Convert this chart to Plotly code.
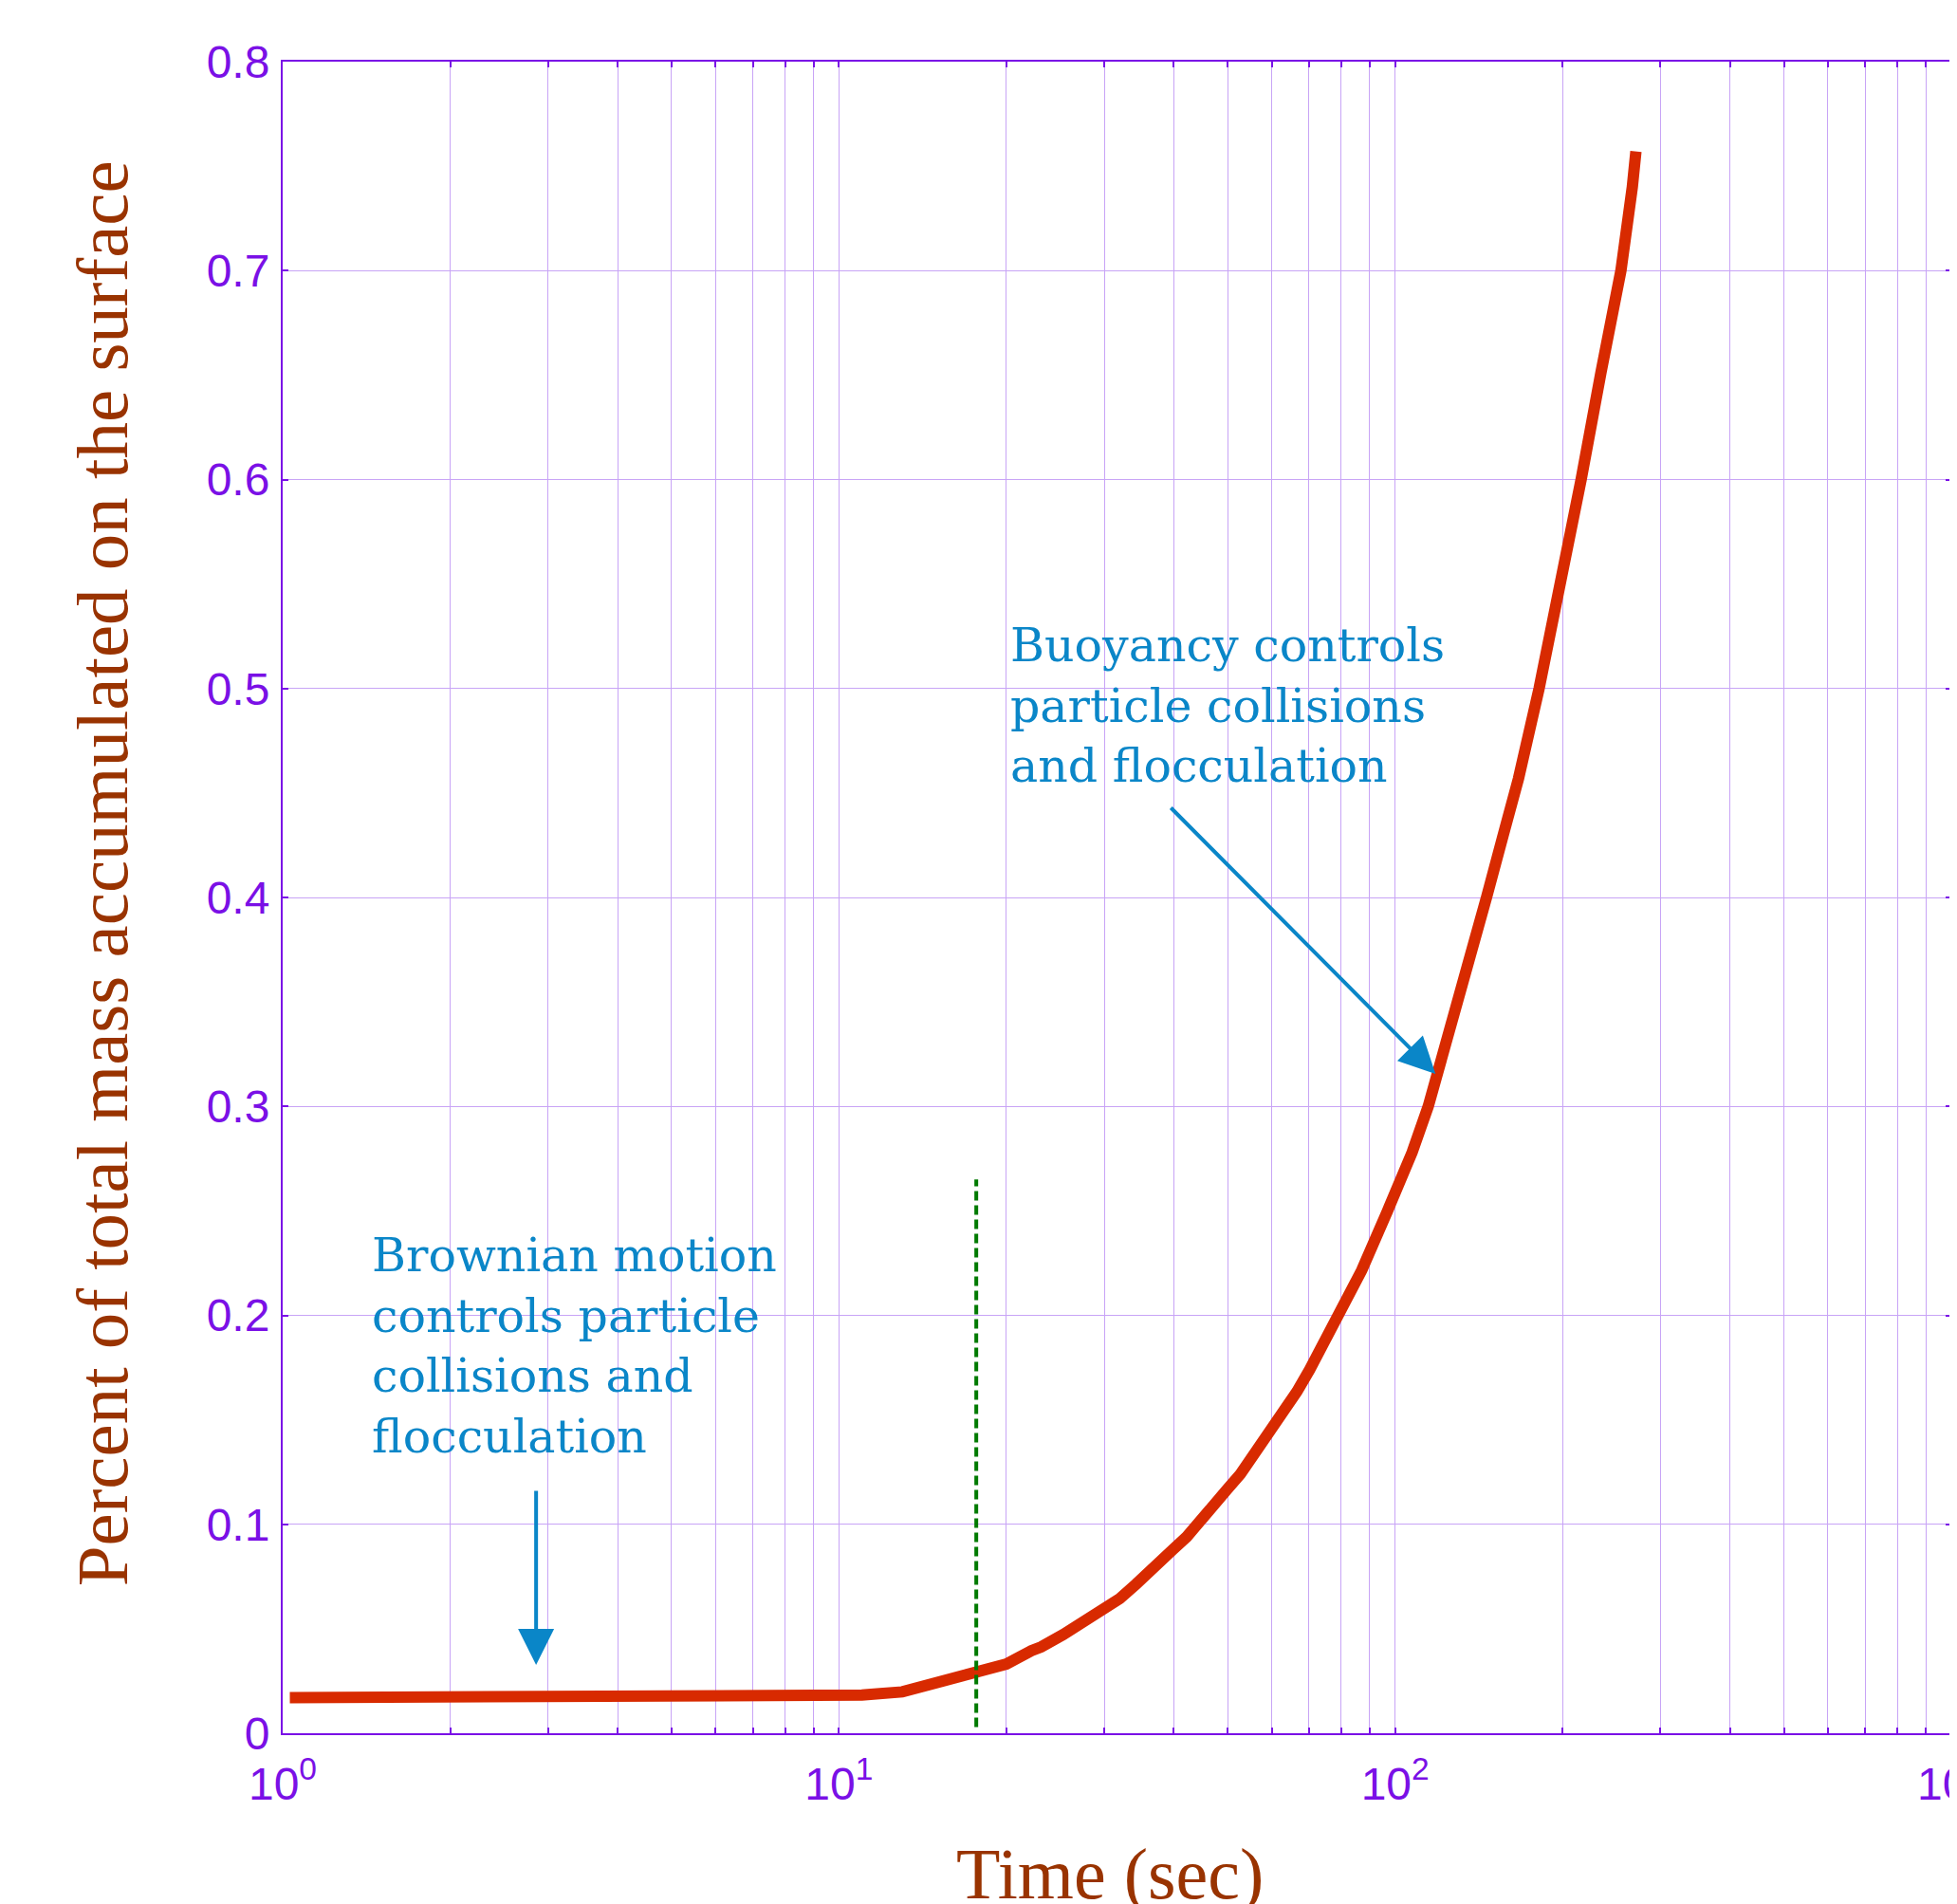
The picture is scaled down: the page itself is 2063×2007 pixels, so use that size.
import numpy as np
import plotly.graph_objects as go

# ---------------- data ----------------
time_s = [1.03, 2, 3, 4.0, 5.0, 7, 9, 11.0, 13.0, 15.0, 17.6, 19.2, 20.0, 22.2, 23.1,
          25.3, 26.3, 28.1, 29.2, 30.0, 32.0, 34.2, 37.0, 39.9, 42.2, 45.9,
          49.9, 52.7, 56.1, 61.6, 66.6, 70.2, 75.9, 78.7, 87.1, 96.8,
          107.3, 114.7, 118.2, 130, 146, 156, 166.7, 181.5, 199, 216, 234.4,
          254.7, 267, 271]
mass_frac = [0.0170, 0.0170, 0.0170, 0.0170, 0.0183, 0.0183, 0.0183, 0.0183, 0.0198,
             0.0244, 0.0285, 0.0315, 0.0331, 0.0395, 0.0413, 0.0472, 0.0500, 0.0545,
             0.0586, 0.0600, 0.0645, 0.0713, 0.0790, 0.0880, 0.0940, 0.1044,
             0.1167, 0.1240, 0.1340, 0.1500, 0.1635, 0.1740, 0.1907, 0.2000,
             0.2216, 0.2497, 0.2780, 0.3000, 0.3120, 0.3530,
             0.4000, 0.4286, 0.4570, 0.5000, 0.5500, 0.6000, 0.6510, 0.7000,
             0.7400, 0.7570]

threshold_time = [17.66, 17.66]
threshold_y = [0.003, 0.265]

x_major = [1, 10, 100, 1000]
x_major_text = ["10<sup>0</sup>", "10<sup>1</sup>", "10<sup>2</sup>", "10<sup>3</sup>"]
x_minor = [m * 10 ** e for e in range(3) for m in range(2, 10)]
y_ticks = [0, 0.1, 0.2, 0.3, 0.4, 0.5, 0.6, 0.7, 0.8]
y_tick_text = ["0", "0.1", "0.2", "0.3", "0.4", "0.5", "0.6", "0.7", "0.8"]

x_title = "Time (sec)"
y_title = "Percent of total mass accumulated on the surface"

brownian_text = "Brownian motion<br>controls particle<br>collisions and<br>flocculation"
buoyancy_text = "Buoyancy controls<br>particle collisions<br>and flocculation"
brownian_arrow = dict(tip=(2.855, 0.0327), tail=(2.855, 0.1167))
buoyancy_arrow = dict(tip=(118.2, 0.3156), tail=(39.3, 0.4436))

# ---------------- styles ----------------
PURPLE = "#7A10E6"
GRID = "#C8A4F6"
BROWN = "#993300"
RED = "#D82A00"
GREEN = "#007A00"
BLUE = "#0A86C8"
SANS = "Liberation Sans, Arial, sans-serif"
SERIF = "Liberation Serif, Times New Roman, serif"
NOTE_FONT = "DejaVu Serif, Georgia, serif"

fig = go.Figure()
fig.add_trace(go.Scatter(x=time_s, y=mass_frac, mode="lines",
                         line=dict(color=RED, width=12), showlegend=False))
fig.add_trace(go.Scatter(x=threshold_time, y=threshold_y, mode="lines",
                         line=dict(color=GREEN, width=4, dash="10px,5px"), showlegend=False))

axis_common = dict(showline=True, linecolor=PURPLE, linewidth=2, mirror="ticks",
                   ticks="inside", ticklen=6, tickwidth=2, tickcolor=PURPLE,
                   showgrid=True, gridcolor=GRID, gridwidth=1, zeroline=False,
                   ticklabeloverflow="allow", automargin=False,
                   tickfont=dict(family=SANS, size=48, color=PURPLE))

fig.update_xaxes(type="log", range=[0, 3], tickmode="array", tickvals=x_major,
                 ticktext=x_major_text, ticklabelstandoff=10,
                 minor=dict(tickmode="array", tickvals=x_minor, ticks="inside", ticklen=6,
                            tickwidth=2, tickcolor=PURPLE, showgrid=True,
                            gridcolor=GRID, gridwidth=1),
                 **axis_common)
fig.update_yaxes(range=[0, 0.8], tickmode="array", tickvals=y_ticks, ticktext=y_tick_text,
                 ticklabelstandoff=2, **axis_common)

# white boxes behind the notes (above grid, below data)
boxes = [(0.0409, 0.3184, 0.1544, 0.3087), (0.4252, 0.7015, 0.542, 0.6765)]
for x0, x1, y0, y1 in boxes:
    fig.add_shape(type="rect", xref="paper", yref="paper", x0=x0, x1=x1, y0=y0, y1=y1,
                  fillcolor="white", line=dict(width=0), layer="between")

annotations = [
    dict(text=brownian_text, xref="paper", yref="paper", x=0.0523, y=0.303,
         xanchor="left", yanchor="top", align="left", showarrow=False,
         font=dict(family=NOTE_FONT, size=49, color=BLUE)),
    dict(text=buoyancy_text, xref="paper", yref="paper", x=0.4349, y=0.668,
         xanchor="left", yanchor="top", align="left", showarrow=False,
         font=dict(family=NOTE_FONT, size=49, color=BLUE)),
    dict(text=x_title, xref="paper", yref="paper", x=0.4957, y=-0.084,
         xanchor="center", yanchor="middle", showarrow=False,
         font=dict(family=SERIF, size=76, color=BROWN)),
    dict(text=y_title, xref="paper", yref="paper", x=-0.108, y=0.514, textangle=-90,
         xanchor="center", yanchor="middle", showarrow=False,
         font=dict(family=SERIF, size=77, color=BROWN)),
]
for arr in (brownian_arrow, buoyancy_arrow):
    annotations.append(dict(
        text="", xref="x", yref="y", axref="x", ayref="y",
        x=np.log10(arr["tip"][0]), y=arr["tip"][1],
        ax=np.log10(arr["tail"][0]), ay=arr["tail"][1],
        showarrow=True, arrowhead=2, arrowsize=1.9, arrowwidth=4,
        arrowcolor=BLUE, standoff=0, startstandoff=0))

# the page body adds an 8px offset; size and margins compensate so the
# plot area lands where the reference has it
fig.update_layout(width=2055, height=1999, paper_bgcolor="white", plot_bgcolor="white",
                  margin=dict(l=290, r=6, t=57, b=180), annotations=annotations,
                  showlegend=False)

fig.write_html("out.html")
